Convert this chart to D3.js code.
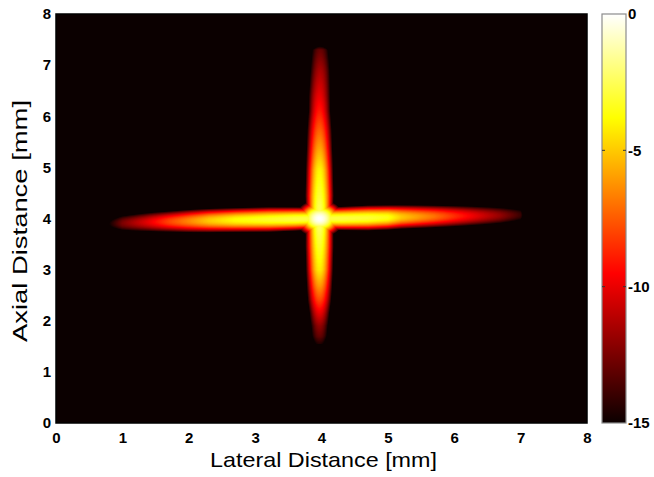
<!DOCTYPE html>
<html>
<head>
<meta charset="utf-8">
<script src="https://cdn.jsdelivr.net/npm/d3@7"></script>
<style>
	body { margin: 0; background: #fff; }
	svg { display: block; }
	text { font-family: "Liberation Sans", Arial, sans-serif; }
	.tick text { font-weight: bold; font-size: 15px; fill: #000; }
</style>
</head>
<body>
<svg id="chart" width="654" height="477"></svg>
<script>
// colour map (MATLAB "hot"), in dB
const hotStops = [-15, -9.52, -3.81, 0];
const hotColors = ['#0b0000', '#ff0000', '#ffff00', '#ffffff'];

const xTicks = [0, 1, 2, 3, 4, 5, 6, 7, 8];
const yTicks = [0, 1, 2, 3, 4, 5, 6, 7, 8];
const cbTicks = [0, -5, -10, -15];

// lateral (horizontal) arm of the PSF, sampled along lateral distance [mm]
const lateralPos       = [0.6, 0.8, 1.0, 1.4, 1.7, 2.0, 2.3, 2.7, 3.2, 3.6, 3.95, 4.3, 4.7, 5.0, 5.2, 5.7, 6.2, 6.7, 7.0, 7.25];
const lateralPeak      = [-22, -15, -12.5, -10, -8, -6.5, -5, -3.8, -3.2, -2.8, -2.8, -2.8, -3, -3.5, -5, -7, -9.5, -12, -14, -22];
const lateralCenter    = [3.89, 3.9, 3.91, 3.93, 3.94, 3.95, 3.96, 3.97, 3.98, 3.99, 4.0, 4.0, 4.01, 4.02, 4.03, 4.04, 4.05, 4.06, 4.07, 4.07];
const lateralHalfWidth = [0.19, 0.19, 0.18, 0.17, 0.16, 0.16, 0.155, 0.15, 0.15, 0.14, 0.13, 0.14, 0.15, 0.15, 0.155, 0.16, 0.17, 0.18, 0.19, 0.19];

// axial (vertical) arm, sampled along axial distance [mm]
const axialPos       = [1.4, 1.55, 1.7, 1.9, 2.15, 2.4, 2.7, 3.0, 3.45, 3.8, 4.0, 4.25, 4.45, 4.95, 5.4, 5.75, 6.1, 6.4, 6.9, 7.3, 7.6];
const axialPeak      = [-22, -14.5, -13, -12, -10, -8, -6, -4.2, -3.2, -2.4, -2.4, -2.6, -3, -4, -6, -7.5, -9, -10, -11.5, -13, -22];
const axialCenter    = [3.97, 3.97, 3.97, 3.97, 3.97, 3.97, 3.97, 3.97, 3.97, 3.97, 3.97, 3.97, 3.97, 3.97, 3.97, 3.97, 3.97, 3.97, 3.98, 3.98, 3.98];
const axialHalfWidth = [0.17, 0.17, 0.16, 0.15, 0.14, 0.14, 0.135, 0.13, 0.13, 0.125, 0.12, 0.125, 0.13, 0.13, 0.135, 0.14, 0.14, 0.15, 0.16, 0.17, 0.17];

// bright focal spot where the arms cross
const spotX = 3.97, spotY = 4.0, spotPeak = 0, spotRadius = 0.2;

const margin = { top: 14, left: 56 };
const innerW = 531, innerH = 409;

const svg = d3.select('#chart');
const g = svg.append('g').attr('transform', `translate(${margin.left},${margin.top})`);

const x = d3.scaleLinear().domain([0, 8]).range([0, innerW]);
const y = d3.scaleLinear().domain([0, 8]).range([innerH, 0]);
const color = d3.scaleLinear().domain(hotStops).range(hotColors).interpolate(d3.interpolateRgb).clamp(true);

const armScale = (pos, vals) => d3.scaleLinear().domain(pos).range(vals).clamp(true);
const lat = {
	peak: armScale(lateralPos, lateralPeak),
	center: armScale(lateralPos, lateralCenter),
	hw: armScale(lateralPos, lateralHalfWidth)
};
const ax = {
	peak: armScale(axialPos, axialPeak),
	center: armScale(axialPos, axialCenter),
	hw: armScale(axialPos, axialHalfWidth)
};

// dB fall-off across an arm (gaussian in amplitude)
const falloff = (peak, d, hw) => peak - 4.343 * (d / hw) * (d / hw);

function valueAt(xm, ym) {
	const r2 = ((xm - spotX) ** 2 + (ym - spotY) ** 2) / (spotRadius * spotRadius);
	const v = Math.max(
		falloff(lat.peak(xm), ym - lat.center(xm), lat.hw(xm)),
		falloff(ax.peak(ym), xm - ax.center(ym), ax.hw(ym)),
		spotPeak - 4.343 * r2
	);
	return Math.max(-15, Math.min(0, v));
}

// colour lookup table
const lut = d3.range(256).map(i => d3.rgb(color(-15 + 15 * i / 255)));

const canvas = document.createElement('canvas');
canvas.width = innerW;
canvas.height = innerH;
const ctx = canvas.getContext('2d');
const img = ctx.createImageData(innerW, innerH);
for (let py = 0; py < innerH; py++) {
	const ym = y.invert(py + 0.5);
	for (let px = 0; px < innerW; px++) {
		const v = valueAt(x.invert(px + 0.5), ym);
		const c = lut[Math.round((v + 15) / 15 * 255)];
		const k = (py * innerW + px) * 4;
		img.data[k] = c.r; img.data[k + 1] = c.g; img.data[k + 2] = c.b; img.data[k + 3] = 255;
	}
}
ctx.putImageData(img, 0, 0);

g.append('image')
	.attr('width', innerW).attr('height', innerH)
	.attr('preserveAspectRatio', 'none')
	.attr('href', canvas.toDataURL());

g.append('g')
	.attr('transform', `translate(0,${innerH})`)
	.call(d3.axisBottom(x).tickValues(xTicks).tickFormat(d3.format('d')).tickSize(0).tickPadding(9))
	.call(s => s.select('.domain').remove());

g.append('g')
	.call(d3.axisLeft(y).tickValues(yTicks).tickFormat(d3.format('d')).tickSize(0).tickPadding(5))
	.call(s => s.select('.domain').remove());

g.append('rect')
	.attr('width', innerW).attr('height', innerH)
	.attr('fill', 'none').attr('stroke', '#000').attr('stroke-width', 1.5);

// axis labels
svg.append('text')
	.attr('x', 323.5).attr('y', 467)
	.attr('text-anchor', 'middle')
	.attr('font-size', 21)
	.attr('textLength', 227).attr('lengthAdjust', 'spacingAndGlyphs')
	.text('Lateral Distance [mm]');

svg.append('text')
	.attr('transform', 'translate(27,221) rotate(-90)')
	.attr('text-anchor', 'middle')
	.attr('font-size', 21)
	.attr('textLength', 242).attr('lengthAdjust', 'spacingAndGlyphs')
	.text('Axial Distance [mm]');

// colour bar
const cb = { x: 602, w: 24 };
const cbScale = d3.scaleLinear().domain([-15, 0]).range([margin.top + innerH, margin.top]);

const grad = svg.append('defs').append('linearGradient')
	.attr('id', 'hot-grad')
	.attr('x1', 0).attr('y1', 1).attr('x2', 0).attr('y2', 0);
grad.selectAll('stop').data(hotStops).join('stop')
	.attr('offset', d => (d + 15) / 15)
	.attr('stop-color', d => color(d));

svg.append('rect')
	.attr('x', cb.x).attr('y', cbScale(0))
	.attr('width', cb.w).attr('height', cbScale(-15) - cbScale(0))
	.attr('fill', 'url(#hot-grad)')
	.attr('stroke', '#8c8c8c').attr('stroke-width', 1.2);

svg.selectAll('.cb-tick').data([-5, -10]).join('path')
	.attr('class', 'cb-tick')
	.attr('d', d => `M${cb.x},${cbScale(d)}h3M${cb.x + cb.w},${cbScale(d)}h-3`)
	.attr('stroke', '#333').attr('stroke-width', 1);

svg.append('g')
	.attr('transform', `translate(${cb.x + cb.w},0)`)
	.call(d3.axisRight(cbScale).tickValues(cbTicks).tickFormat(d => d === 0 ? '0' : '-' + Math.abs(d)).tickSize(0).tickPadding(2))
	.call(s => s.select('.domain').remove());
</script>
</body>
</html>
